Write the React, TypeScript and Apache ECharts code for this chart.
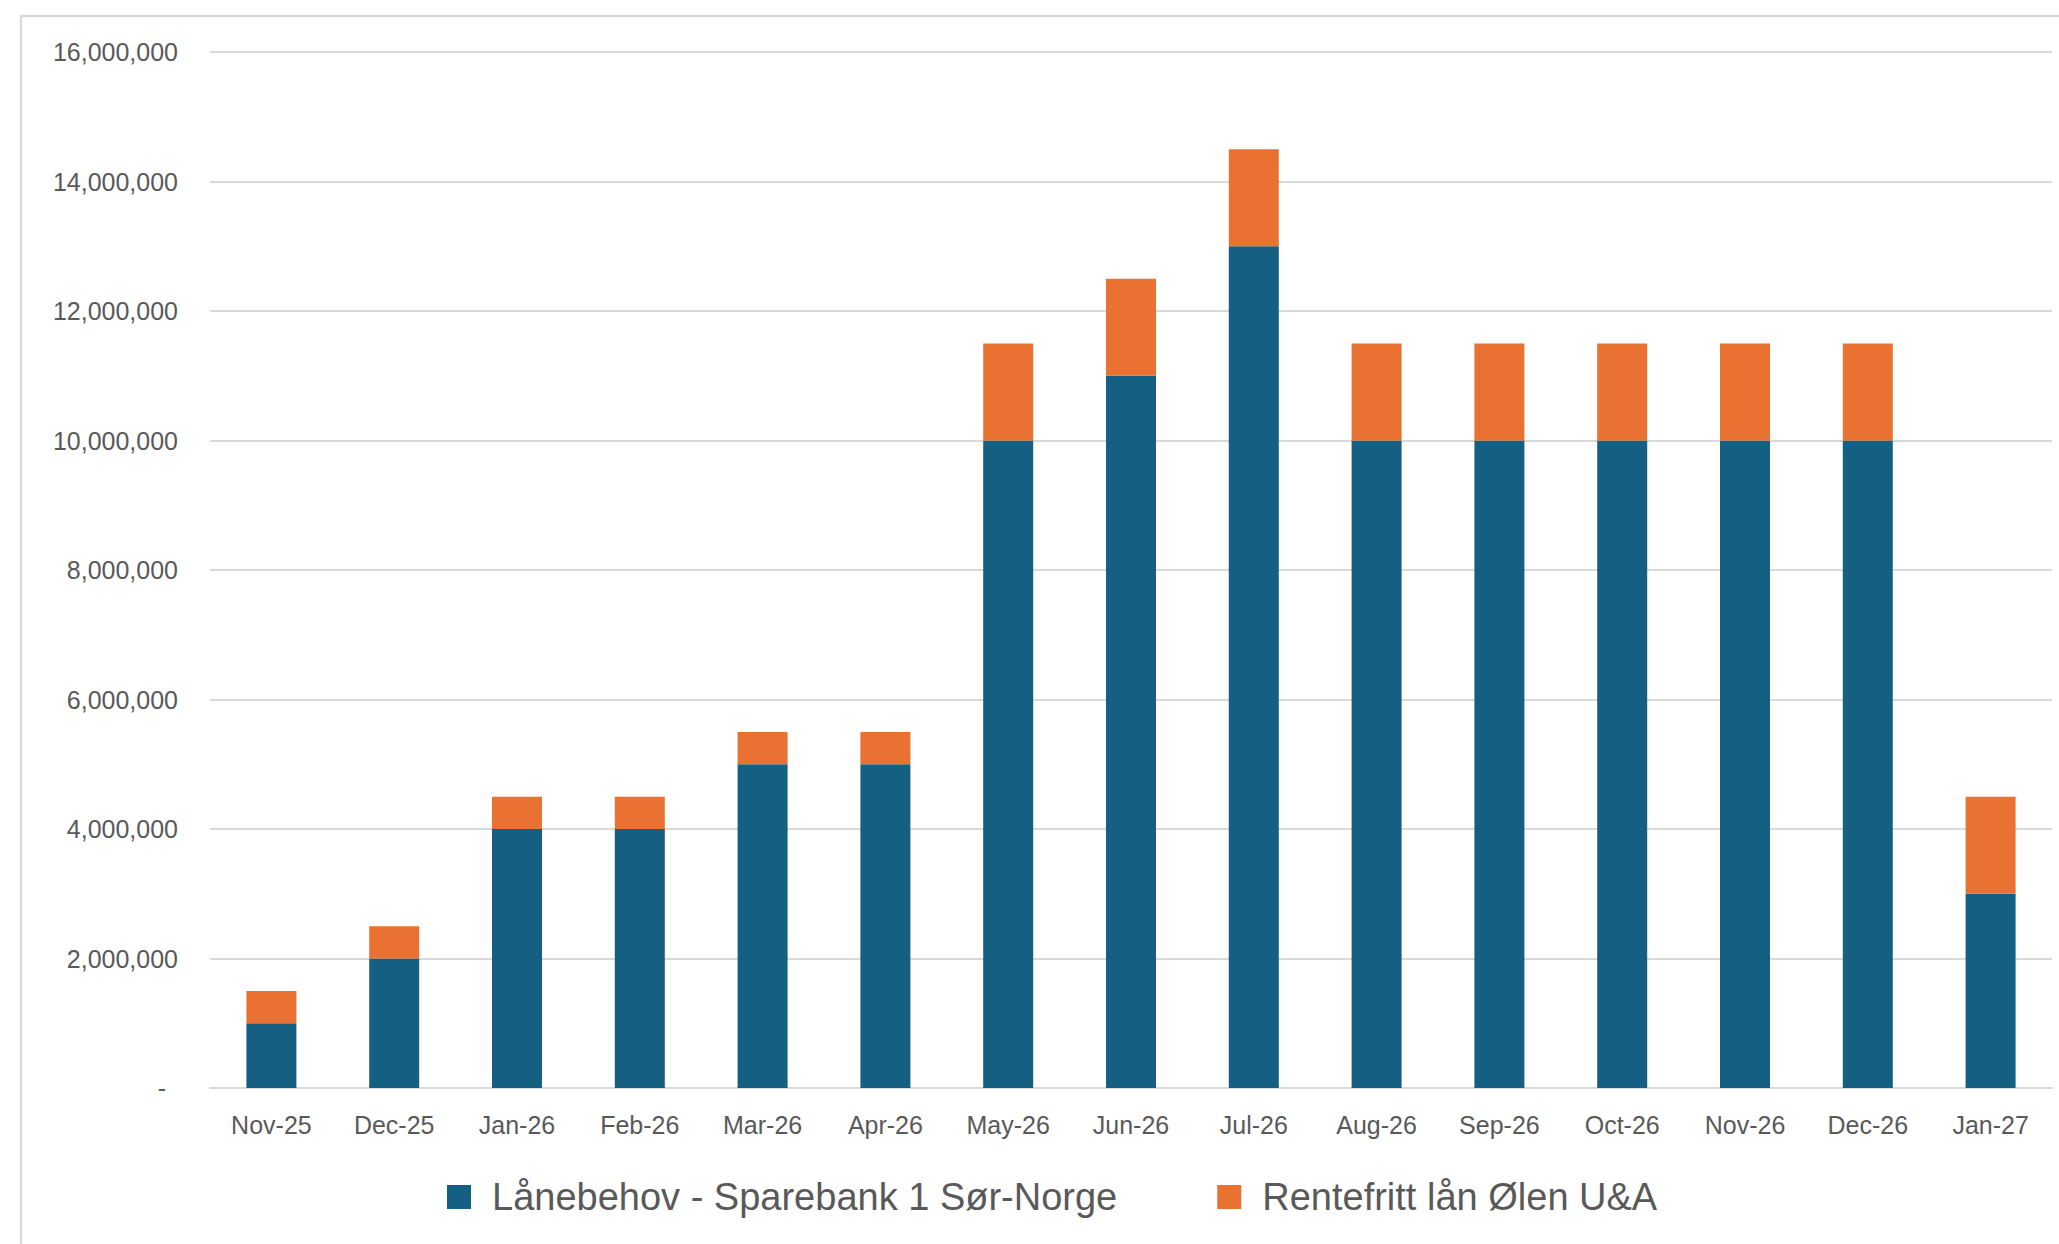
import React, { useEffect, useRef } from "react";
import * as echarts from "echarts";

const categories = [
  "Nov-25", "Dec-25", "Jan-26", "Feb-26", "Mar-26", "Apr-26", "May-26", "Jun-26",
  "Jul-26", "Aug-26", "Sep-26", "Oct-26", "Nov-26", "Dec-26", "Jan-27",
];
const seriesNames = ["Lånebehov - Sparebank 1 Sør-Norge", "Rentefritt lån Ølen U&A"];
const laanebehov = [
  1000000, 2000000, 4000000, 4000000, 5000000, 5000000, 10000000, 11000000,
  13000000, 10000000, 10000000, 10000000, 10000000, 10000000, 3000000,
];
const rentefritt = [
  500000, 500000, 500000, 500000, 500000, 500000, 1500000, 1500000,
  1500000, 1500000, 1500000, 1500000, 1500000, 1500000, 1500000,
];
const yMax = 16000000;
const yInterval = 2000000;

const FONT = "'Liberation Sans', Arial, sans-serif";
const TEXT = "#595959";
const GRID = "#d9d9d9";

function fmt(v: number): string {
  return v.toLocaleString("en-US");
}

export default function App() {
  const ref = useRef<HTMLDivElement>(null);
  useEffect(() => {
    if (!ref.current) return;
    const chart = echarts.init(ref.current, undefined, { renderer: "svg" });
    chart.setOption({
      animation: false,
      backgroundColor: "#ffffff",
      textStyle: { fontFamily: FONT },
      graphic: [
        {
          type: "rect",
          shape: { x: 21, y: 16, width: 2200, height: 1400 },
          style: { fill: "none", stroke: GRID, lineWidth: 2.5 },
          silent: true,
          z: -1,
        },
      ],
      grid: { left: 210, right: 7, top: 52, bottom: 156, containLabel: false },
      legend: {
        left: 447,
        top: 1178,
        padding: 0,
        icon: "rect",
        itemWidth: 24,
        itemHeight: 24,
        itemGap: 100,
        data: seriesNames,
        textStyle: {
          fontFamily: FONT,
          fontSize: 38,
          color: TEXT,
          lineHeight: 24,
          padding: [0, 0, 0, 16],
        },
      },
      xAxis: {
        type: "category",
        data: categories,
        axisTick: { show: false },
        axisLine: { lineStyle: { color: GRID, width: 2 } },
        axisLabel: { color: TEXT, fontSize: 25, fontFamily: FONT, margin: 24 },
      },
      yAxis: {
        type: "value",
        min: 0,
        max: yMax,
        interval: yInterval,
        axisLine: { show: false },
        axisTick: { show: false },
        splitLine: { lineStyle: { color: GRID, width: 2 } },
        axisLabel: {
          color: TEXT,
          fontSize: 25,
          fontFamily: FONT,
          margin: 32,
          formatter: (v: number) => (v === 0 ? "{z|-}" : fmt(v)),
          rich: { z: { fontSize: 25, color: TEXT, padding: [0, 12, 0, 0] } },
        },
      },
      series: [
        {
          name: seriesNames[0],
          type: "bar",
          stack: "total",
          barWidth: 50,
          data: laanebehov,
          itemStyle: { color: "#156082" },
        },
        {
          name: seriesNames[1],
          type: "bar",
          stack: "total",
          barWidth: 50,
          data: rentefritt,
          itemStyle: { color: "#E97132" },
        },
      ],
    });
    return () => chart.dispose();
  }, []);
  return (
    <div
      ref={ref}
      style={{ position: "fixed", left: 0, top: 0, width: 2059, height: 1244 }}
    />
  );
}
